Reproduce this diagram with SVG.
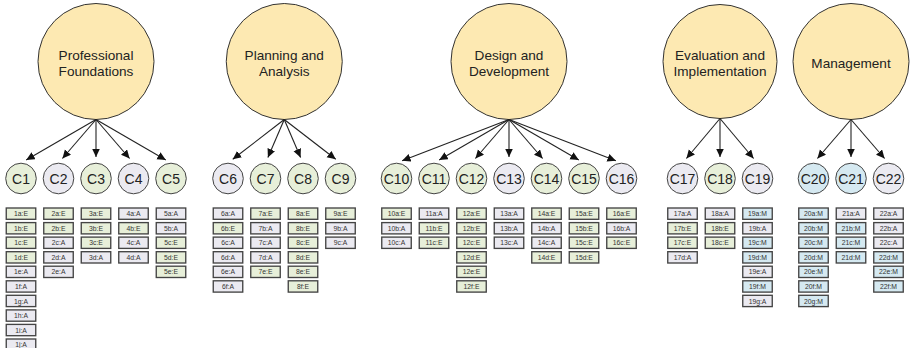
<svg xmlns="http://www.w3.org/2000/svg" width="910" height="348" viewBox="0 0 910 348">
  <style>
    text { font-family: "Liberation Sans", Arial, sans-serif; text-anchor: middle; fill: #222; }
    .domain circle { fill: #fde9b2; stroke: #333; stroke-width: 1; }
    .domain text { font-size: 13.6px; }
    .comp circle { stroke: #444; stroke-width: 1; }
    .comp text { font-size: 14px; }
    .ge { fill: #e7efd9; }
    .gy { fill: #ebeaf1; }
    .bl { fill: #d5e9f1; }
    .items rect { stroke: #444; stroke-width: 1.35; }
    .items text { font-size: 6.8px; fill: #333; }
    .edges line { stroke: #222; stroke-width: 1.1; marker-end: url(#arrow); }
  </style>
  <defs>
    <marker id="arrow" markerUnits="userSpaceOnUse" markerWidth="10" markerHeight="9" refX="8.5" refY="4" orient="auto">
      <path d="M0,0 L8.5,4 L0,8 z" fill="#111"/>
    </marker>
  </defs>

  <rect width="910" height="348" fill="#fff"/>

  <!-- domains -->
  <g id="domain-professional-foundations" class="domain">
    <circle cx="96" cy="61.5" r="58"/>
    <text x="96" y="59.5">Professional</text>
    <text x="96" y="76">Foundations</text>
  </g>
  <g id="domain-planning-analysis" class="domain">
    <circle cx="284.25" cy="61.5" r="58"/>
    <text x="284.25" y="59.5">Planning and</text>
    <text x="284.25" y="76">Analysis</text>
  </g>
  <g id="domain-design-development" class="domain">
    <circle cx="509" cy="61.5" r="58"/>
    <text x="509" y="59.5">Design and</text>
    <text x="509" y="76">Development</text>
  </g>
  <g id="domain-evaluation-implementation" class="domain">
    <circle cx="720" cy="61.5" r="57"/>
    <text x="720" y="59.5">Evaluation and</text>
    <text x="720" y="76">Implementation</text>
  </g>
  <g id="domain-management" class="domain">
    <circle cx="851" cy="61.5" r="58"/>
    <text x="851" y="67.5">Management</text>
  </g>

  <!-- domain to competency connectors -->
  <g id="edges" class="edges">
    <line x1="96" y1="119.5" x2="26.2" y2="160"/>
    <line x1="96" y1="119.5" x2="62.4" y2="158.5"/>
    <line x1="96" y1="119.5" x2="96" y2="157"/>
    <line x1="96" y1="119.5" x2="129.6" y2="158.5"/>
    <line x1="96" y1="119.5" x2="165.8" y2="160"/>

    <line x1="284.25" y1="119.5" x2="232.75" y2="159.3"/>
    <line x1="284.25" y1="119.5" x2="267.9" y2="157.5"/>
    <line x1="284.25" y1="119.5" x2="300.6" y2="157.5"/>
    <line x1="284.25" y1="119.5" x2="335.75" y2="159.3"/>

    <line x1="509" y1="119.5" x2="402.1" y2="160.8"/>
    <line x1="509" y1="119.5" x2="439.2" y2="160"/>
    <line x1="509" y1="119.5" x2="475.4" y2="158.5"/>
    <line x1="509" y1="119.5" x2="509" y2="157"/>
    <line x1="509" y1="119.5" x2="542.6" y2="158.5"/>
    <line x1="509" y1="119.5" x2="578.8" y2="160"/>
    <line x1="509" y1="119.5" x2="615.9" y2="160.8"/>

    <line x1="720" y1="118.5" x2="686.4" y2="158.5"/>
    <line x1="720" y1="118.5" x2="720" y2="157"/>
    <line x1="720" y1="118.5" x2="753.6" y2="158.5"/>

    <line x1="851" y1="119.5" x2="817.4" y2="158.5"/>
    <line x1="851" y1="119.5" x2="851" y2="157"/>
    <line x1="851" y1="119.5" x2="884.6" y2="158.5"/>
  </g>

  <!-- competencies -->
  <g id="C1" class="comp"><circle class="ge" cx="21" cy="178.5" r="15.3"/><text x="21" y="183.5">C1</text></g>
  <g id="C2" class="comp"><circle class="gy" cx="58.5" cy="178.5" r="15.3"/><text x="58.5" y="183.5">C2</text></g>
  <g id="C3" class="comp"><circle class="ge" cx="96" cy="178.5" r="15.3"/><text x="96" y="183.5">C3</text></g>
  <g id="C4" class="comp"><circle class="gy" cx="133.5" cy="178.5" r="15.3"/><text x="133.5" y="183.5">C4</text></g>
  <g id="C5" class="comp"><circle class="ge" cx="171" cy="178.5" r="15.3"/><text x="171" y="183.5">C5</text></g>
  <g id="C6" class="comp"><circle class="gy" cx="228" cy="178.5" r="15.3"/><text x="228" y="183.5">C6</text></g>
  <g id="C7" class="comp"><circle class="ge" cx="265.5" cy="178.5" r="15.3"/><text x="265.5" y="183.5">C7</text></g>
  <g id="C8" class="comp"><circle class="ge" cx="303" cy="178.5" r="15.3"/><text x="303" y="183.5">C8</text></g>
  <g id="C9" class="comp"><circle class="ge" cx="340.5" cy="178.5" r="15.3"/><text x="340.5" y="183.5">C9</text></g>
  <g id="C10" class="comp"><circle class="ge" cx="396.5" cy="178.5" r="15.3"/><text x="396.5" y="183.5">C10</text></g>
  <g id="C11" class="comp"><circle class="ge" cx="434" cy="178.5" r="15.3"/><text x="434" y="183.5">C11</text></g>
  <g id="C12" class="comp"><circle class="ge" cx="471.5" cy="178.5" r="15.3"/><text x="471.5" y="183.5">C12</text></g>
  <g id="C13" class="comp"><circle class="gy" cx="509" cy="178.5" r="15.3"/><text x="509" y="183.5">C13</text></g>
  <g id="C14" class="comp"><circle class="ge" cx="546.5" cy="178.5" r="15.3"/><text x="546.5" y="183.5">C14</text></g>
  <g id="C15" class="comp"><circle class="ge" cx="584" cy="178.5" r="15.3"/><text x="584" y="183.5">C15</text></g>
  <g id="C16" class="comp"><circle class="gy" cx="621.5" cy="178.5" r="15.3"/><text x="621.5" y="183.5">C16</text></g>
  <g id="C17" class="comp"><circle class="gy" cx="682.5" cy="178.5" r="15.3"/><text x="682.5" y="183.5">C17</text></g>
  <g id="C18" class="comp"><circle class="ge" cx="720" cy="178.5" r="15.3"/><text x="720" y="183.5">C18</text></g>
  <g id="C19" class="comp"><circle class="gy" cx="757.5" cy="178.5" r="15.3"/><text x="757.5" y="183.5">C19</text></g>
  <g id="C20" class="comp"><circle class="bl" cx="813.5" cy="178.5" r="15.3"/><text x="813.5" y="183.5">C20</text></g>
  <g id="C21" class="comp"><circle class="bl" cx="851" cy="178.5" r="15.3"/><text x="851" y="183.5">C21</text></g>
  <g id="C22" class="comp"><circle class="gy" cx="888.5" cy="178.5" r="15.3"/><text x="888.5" y="183.5">C22</text></g>

  <!-- performance items, one column per competency -->
  <g id="items-C1" class="items" transform="translate(21,0)">
    <rect class="ge" x="-14.75" y="208" width="29.5" height="11.3"/><text y="216.2">1a:E</text>
    <rect class="ge" x="-14.75" y="222.6" width="29.5" height="11.3"/><text y="230.8">1b:E</text>
    <rect class="ge" x="-14.75" y="237.1" width="29.5" height="11.3"/><text y="245.3">1c:E</text>
    <rect class="ge" x="-14.75" y="251.7" width="29.5" height="11.3"/><text y="259.9">1d:E</text>
    <rect class="gy" x="-14.75" y="266.2" width="29.5" height="11.3"/><text y="274.4">1e:A</text>
    <rect class="gy" x="-14.75" y="280.8" width="29.5" height="11.3"/><text y="289">1f:A</text>
    <rect class="gy" x="-14.75" y="295.3" width="29.5" height="11.3"/><text y="303.5">1g:A</text>
    <rect class="gy" x="-14.75" y="309.9" width="29.5" height="11.3"/><text y="318.1">1h:A</text>
    <rect class="gy" x="-14.75" y="324.4" width="29.5" height="11.3"/><text y="332.6">1i:A</text>
    <rect class="gy" x="-14.75" y="339" width="29.5" height="11.3"/><text y="347.2">1j:A</text>
  </g>
  <g id="items-C2" class="items" transform="translate(58.5,0)">
    <rect class="ge" x="-14.75" y="208" width="29.5" height="11.3"/><text y="216.2">2a:E</text>
    <rect class="ge" x="-14.75" y="222.6" width="29.5" height="11.3"/><text y="230.8">2b:E</text>
    <rect class="gy" x="-14.75" y="237.1" width="29.5" height="11.3"/><text y="245.3">2c:A</text>
    <rect class="gy" x="-14.75" y="251.7" width="29.5" height="11.3"/><text y="259.9">2d:A</text>
    <rect class="gy" x="-14.75" y="266.2" width="29.5" height="11.3"/><text y="274.4">2e:A</text>
  </g>
  <g id="items-C3" class="items" transform="translate(96,0)">
    <rect class="ge" x="-14.75" y="208" width="29.5" height="11.3"/><text y="216.2">3a:E</text>
    <rect class="ge" x="-14.75" y="222.6" width="29.5" height="11.3"/><text y="230.8">3b:E</text>
    <rect class="ge" x="-14.75" y="237.1" width="29.5" height="11.3"/><text y="245.3">3c:E</text>
    <rect class="gy" x="-14.75" y="251.7" width="29.5" height="11.3"/><text y="259.9">3d:A</text>
  </g>
  <g id="items-C4" class="items" transform="translate(133.5,0)">
    <rect class="gy" x="-14.75" y="208" width="29.5" height="11.3"/><text y="216.2">4a:A</text>
    <rect class="ge" x="-14.75" y="222.6" width="29.5" height="11.3"/><text y="230.8">4b:E</text>
    <rect class="gy" x="-14.75" y="237.1" width="29.5" height="11.3"/><text y="245.3">4c:A</text>
    <rect class="gy" x="-14.75" y="251.7" width="29.5" height="11.3"/><text y="259.9">4d:A</text>
  </g>
  <g id="items-C5" class="items" transform="translate(171,0)">
    <rect class="gy" x="-14.75" y="208" width="29.5" height="11.3"/><text y="216.2">5a:A</text>
    <rect class="gy" x="-14.75" y="222.6" width="29.5" height="11.3"/><text y="230.8">5b:A</text>
    <rect class="ge" x="-14.75" y="237.1" width="29.5" height="11.3"/><text y="245.3">5c:E</text>
    <rect class="ge" x="-14.75" y="251.7" width="29.5" height="11.3"/><text y="259.9">5d:E</text>
    <rect class="ge" x="-14.75" y="266.2" width="29.5" height="11.3"/><text y="274.4">5e:E</text>
  </g>
  <g id="items-C6" class="items" transform="translate(228,0)">
    <rect class="gy" x="-14.75" y="208" width="29.5" height="11.3"/><text y="216.2">6a:A</text>
    <rect class="ge" x="-14.75" y="222.6" width="29.5" height="11.3"/><text y="230.8">6b:E</text>
    <rect class="gy" x="-14.75" y="237.1" width="29.5" height="11.3"/><text y="245.3">6c:A</text>
    <rect class="gy" x="-14.75" y="251.7" width="29.5" height="11.3"/><text y="259.9">6d:A</text>
    <rect class="gy" x="-14.75" y="266.2" width="29.5" height="11.3"/><text y="274.4">6e:A</text>
    <rect class="gy" x="-14.75" y="280.8" width="29.5" height="11.3"/><text y="289">6f:A</text>
  </g>
  <g id="items-C7" class="items" transform="translate(265.5,0)">
    <rect class="ge" x="-14.75" y="208" width="29.5" height="11.3"/><text y="216.2">7a:E</text>
    <rect class="gy" x="-14.75" y="222.6" width="29.5" height="11.3"/><text y="230.8">7b:A</text>
    <rect class="gy" x="-14.75" y="237.1" width="29.5" height="11.3"/><text y="245.3">7c:A</text>
    <rect class="gy" x="-14.75" y="251.7" width="29.5" height="11.3"/><text y="259.9">7d:A</text>
    <rect class="ge" x="-14.75" y="266.2" width="29.5" height="11.3"/><text y="274.4">7e:E</text>
  </g>
  <g id="items-C8" class="items" transform="translate(303,0)">
    <rect class="ge" x="-14.75" y="208" width="29.5" height="11.3"/><text y="216.2">8a:E</text>
    <rect class="ge" x="-14.75" y="222.6" width="29.5" height="11.3"/><text y="230.8">8b:E</text>
    <rect class="ge" x="-14.75" y="237.1" width="29.5" height="11.3"/><text y="245.3">8c:E</text>
    <rect class="ge" x="-14.75" y="251.7" width="29.5" height="11.3"/><text y="259.9">8d:E</text>
    <rect class="ge" x="-14.75" y="266.2" width="29.5" height="11.3"/><text y="274.4">8e:E</text>
    <rect class="ge" x="-14.75" y="280.8" width="29.5" height="11.3"/><text y="289">8f:E</text>
  </g>
  <g id="items-C9" class="items" transform="translate(340.5,0)">
    <rect class="ge" x="-14.75" y="208" width="29.5" height="11.3"/><text y="216.2">9a:E</text>
    <rect class="gy" x="-14.75" y="222.6" width="29.5" height="11.3"/><text y="230.8">9b:A</text>
    <rect class="gy" x="-14.75" y="237.1" width="29.5" height="11.3"/><text y="245.3">9c:A</text>
  </g>
  <g id="items-C10" class="items" transform="translate(396.5,0)">
    <rect class="ge" x="-14.75" y="208" width="29.5" height="11.3"/><text y="216.2">10a:E</text>
    <rect class="gy" x="-14.75" y="222.6" width="29.5" height="11.3"/><text y="230.8">10b:A</text>
    <rect class="gy" x="-14.75" y="237.1" width="29.5" height="11.3"/><text y="245.3">10c:A</text>
  </g>
  <g id="items-C11" class="items" transform="translate(434,0)">
    <rect class="gy" x="-14.75" y="208" width="29.5" height="11.3"/><text y="216.2">11a:A</text>
    <rect class="ge" x="-14.75" y="222.6" width="29.5" height="11.3"/><text y="230.8">11b:E</text>
    <rect class="ge" x="-14.75" y="237.1" width="29.5" height="11.3"/><text y="245.3">11c:E</text>
  </g>
  <g id="items-C12" class="items" transform="translate(471.5,0)">
    <rect class="ge" x="-14.75" y="208" width="29.5" height="11.3"/><text y="216.2">12a:E</text>
    <rect class="ge" x="-14.75" y="222.6" width="29.5" height="11.3"/><text y="230.8">12b:E</text>
    <rect class="ge" x="-14.75" y="237.1" width="29.5" height="11.3"/><text y="245.3">12c:E</text>
    <rect class="ge" x="-14.75" y="251.7" width="29.5" height="11.3"/><text y="259.9">12d:E</text>
    <rect class="ge" x="-14.75" y="266.2" width="29.5" height="11.3"/><text y="274.4">12e:E</text>
    <rect class="ge" x="-14.75" y="280.8" width="29.5" height="11.3"/><text y="289">12f:E</text>
  </g>
  <g id="items-C13" class="items" transform="translate(509,0)">
    <rect class="gy" x="-14.75" y="208" width="29.5" height="11.3"/><text y="216.2">13a:A</text>
    <rect class="gy" x="-14.75" y="222.6" width="29.5" height="11.3"/><text y="230.8">13b:A</text>
    <rect class="gy" x="-14.75" y="237.1" width="29.5" height="11.3"/><text y="245.3">13c:A</text>
  </g>
  <g id="items-C14" class="items" transform="translate(546.5,0)">
    <rect class="ge" x="-14.75" y="208" width="29.5" height="11.3"/><text y="216.2">14a:E</text>
    <rect class="gy" x="-14.75" y="222.6" width="29.5" height="11.3"/><text y="230.8">14b:A</text>
    <rect class="gy" x="-14.75" y="237.1" width="29.5" height="11.3"/><text y="245.3">14c:A</text>
    <rect class="ge" x="-14.75" y="251.7" width="29.5" height="11.3"/><text y="259.9">14d:E</text>
  </g>
  <g id="items-C15" class="items" transform="translate(584,0)">
    <rect class="ge" x="-14.75" y="208" width="29.5" height="11.3"/><text y="216.2">15a:E</text>
    <rect class="ge" x="-14.75" y="222.6" width="29.5" height="11.3"/><text y="230.8">15b:E</text>
    <rect class="ge" x="-14.75" y="237.1" width="29.5" height="11.3"/><text y="245.3">15c:E</text>
    <rect class="ge" x="-14.75" y="251.7" width="29.5" height="11.3"/><text y="259.9">15d:E</text>
  </g>
  <g id="items-C16" class="items" transform="translate(621.5,0)">
    <rect class="ge" x="-14.75" y="208" width="29.5" height="11.3"/><text y="216.2">16a:E</text>
    <rect class="gy" x="-14.75" y="222.6" width="29.5" height="11.3"/><text y="230.8">16b:A</text>
    <rect class="ge" x="-14.75" y="237.1" width="29.5" height="11.3"/><text y="245.3">16c:E</text>
  </g>
  <g id="items-C17" class="items" transform="translate(682.5,0)">
    <rect class="gy" x="-14.75" y="208" width="29.5" height="11.3"/><text y="216.2">17a:A</text>
    <rect class="ge" x="-14.75" y="222.6" width="29.5" height="11.3"/><text y="230.8">17b:E</text>
    <rect class="ge" x="-14.75" y="237.1" width="29.5" height="11.3"/><text y="245.3">17c:E</text>
    <rect class="gy" x="-14.75" y="251.7" width="29.5" height="11.3"/><text y="259.9">17d:A</text>
  </g>
  <g id="items-C18" class="items" transform="translate(720,0)">
    <rect class="gy" x="-14.75" y="208" width="29.5" height="11.3"/><text y="216.2">18a:A</text>
    <rect class="ge" x="-14.75" y="222.6" width="29.5" height="11.3"/><text y="230.8">18b:E</text>
    <rect class="ge" x="-14.75" y="237.1" width="29.5" height="11.3"/><text y="245.3">18c:E</text>
  </g>
  <g id="items-C19" class="items" transform="translate(757.5,0)">
    <rect class="bl" x="-14.75" y="208" width="29.5" height="11.3"/><text y="216.2">19a:M</text>
    <rect class="gy" x="-14.75" y="222.6" width="29.5" height="11.3"/><text y="230.8">19b:A</text>
    <rect class="bl" x="-14.75" y="237.1" width="29.5" height="11.3"/><text y="245.3">19c:M</text>
    <rect class="bl" x="-14.75" y="251.7" width="29.5" height="11.3"/><text y="259.9">19d:M</text>
    <rect class="gy" x="-14.75" y="266.2" width="29.5" height="11.3"/><text y="274.4">19e:A</text>
    <rect class="bl" x="-14.75" y="280.8" width="29.5" height="11.3"/><text y="289">19f:M</text>
    <rect class="gy" x="-14.75" y="295.3" width="29.5" height="11.3"/><text y="303.5">19g:A</text>
  </g>
  <g id="items-C20" class="items" transform="translate(813.5,0)">
    <rect class="bl" x="-14.75" y="208" width="29.5" height="11.3"/><text y="216.2">20a:M</text>
    <rect class="bl" x="-14.75" y="222.6" width="29.5" height="11.3"/><text y="230.8">20b:M</text>
    <rect class="bl" x="-14.75" y="237.1" width="29.5" height="11.3"/><text y="245.3">20c:M</text>
    <rect class="bl" x="-14.75" y="251.7" width="29.5" height="11.3"/><text y="259.9">20d:M</text>
    <rect class="bl" x="-14.75" y="266.2" width="29.5" height="11.3"/><text y="274.4">20e:M</text>
    <rect class="bl" x="-14.75" y="280.8" width="29.5" height="11.3"/><text y="289">20f:M</text>
    <rect class="bl" x="-14.75" y="295.3" width="29.5" height="11.3"/><text y="303.5">20g:M</text>
  </g>
  <g id="items-C21" class="items" transform="translate(851,0)">
    <rect class="gy" x="-14.75" y="208" width="29.5" height="11.3"/><text y="216.2">21a:A</text>
    <rect class="bl" x="-14.75" y="222.6" width="29.5" height="11.3"/><text y="230.8">21b:M</text>
    <rect class="bl" x="-14.75" y="237.1" width="29.5" height="11.3"/><text y="245.3">21c:M</text>
    <rect class="bl" x="-14.75" y="251.7" width="29.5" height="11.3"/><text y="259.9">21d:M</text>
  </g>
  <g id="items-C22" class="items" transform="translate(888.5,0)">
    <rect class="gy" x="-14.75" y="208" width="29.5" height="11.3"/><text y="216.2">22a:A</text>
    <rect class="gy" x="-14.75" y="222.6" width="29.5" height="11.3"/><text y="230.8">22b:A</text>
    <rect class="gy" x="-14.75" y="237.1" width="29.5" height="11.3"/><text y="245.3">22c:A</text>
    <rect class="bl" x="-14.75" y="251.7" width="29.5" height="11.3"/><text y="259.9">22d:M</text>
    <rect class="bl" x="-14.75" y="266.2" width="29.5" height="11.3"/><text y="274.4">22e:M</text>
    <rect class="bl" x="-14.75" y="280.8" width="29.5" height="11.3"/><text y="289">22f:M</text>
  </g>
</svg>
